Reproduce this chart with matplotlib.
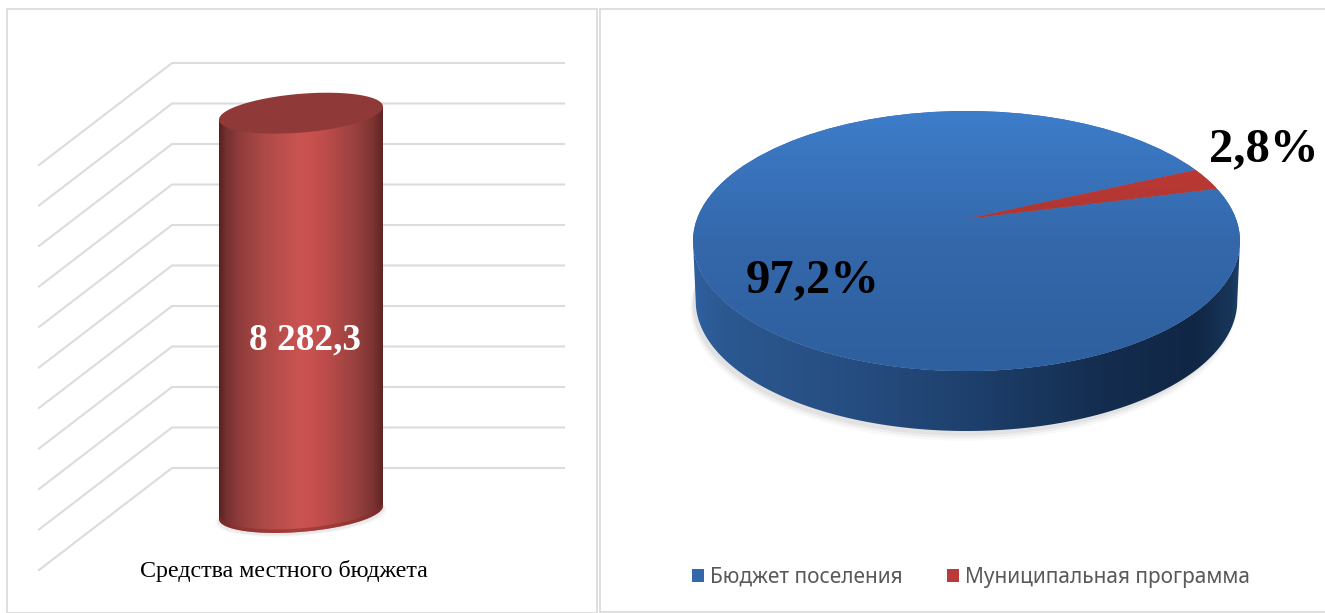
import numpy as np
import matplotlib
matplotlib.use("Agg")
import matplotlib.pyplot as plt
from matplotlib.colors import LinearSegmentedColormap
from matplotlib.patches import Polygon, Rectangle, Ellipse
from matplotlib.transforms import Transform

# ---------- data ----------
bar_category = "Средства местного бюджета"
bar_value = 8282.3
bar_value_label = "8 282,3"
grid_values = [0, 840, 1680, 2520, 3360, 4200, 5040, 5880, 6720, 7560, 8400]

pie_labels = ["Бюджет поселения", "Муниципальная программа"]
pie_shares = [97.2, 2.8]
pie_value_labels = ["97,2%", "2,8%"]

W, H = 1325, 613
fig = plt.figure(figsize=(W / 100, H / 100), dpi=100, facecolor="white")


def rect_px(x0, y0, x1, y1):
    return [x0 / W, 1 - y1 / H, (x1 - x0) / W, (y1 - y0) / H]


# panel frames
for x0, y0, x1, y1 in [(7, 9, 597, 613), (600, 9, 1327, 611.5)]:
    fig.add_artist(Rectangle((x0 / W, 1 - y1 / H), (x1 - x0) / W, (y1 - y0) / H,
                             transform=fig.transFigure, facecolor="white",
                             edgecolor="#d9d9d9", linewidth=1.2, zorder=0))

# ---------- left panel: cylinder ----------
axL = fig.add_axes(rect_px(0, 0, 598, 613))
axL.patch.set_alpha(0)
axL.axis("off")
CX_PX, HALF_PX = 301.0, 82.0
PX_PER_VAL = 40.5 / 840
ZERO_PX = 468.0
axL.set_xlim((0 - CX_PX) / HALF_PX, (598 - CX_PX) / HALF_PX)
axL.set_ylim((ZERO_PX - 613) / PX_PER_VAL, ZERO_PX / PX_PER_VAL)


def xu(px):
    return (px - CX_PX) / HALF_PX


def yu(px):
    return px / PX_PER_VAL


# walls: depth of the floor expressed in the axis' units
floor_drop = yu(102)
for v in grid_values:
    axL.plot([xu(39), xu(172), xu(564)], [v - floor_drop, v, v],
             color="#dcdcdc", lw=1.5, solid_joinstyle="miter", zorder=1)

base = -yu(44.5)
top = base + bar_value
tilt = yu(6.5)
minor = yu(19.4)
t = np.linspace(0, 2 * np.pi, 240)


def ell(c, tt):
    return np.cos(tt), c + tilt * np.cos(tt) + minor * np.sin(tt)


# soft shadow below the cylinder
for grow, al in [(0.05, 0.03), (0.03, 0.05), (0.015, 0.07)]:
    ex, ey = ell(base - yu(2), t)
    axL.fill(ex * (1 + grow), ey - yu(grow * 40), color="#777777", alpha=al, lw=0, zorder=2)

tb = np.linspace(np.pi, 2 * np.pi, 120)
bx, by = ell(base, tb)
body = Polygon(np.r_[np.c_[bx, by], [[1, top + tilt]], [[-1, top - tilt]]],
               closed=True, transform=axL.transData, facecolor="none", edgecolor="none", zorder=3)
axL.add_patch(body)
cyl_cmap = LinearSegmentedColormap.from_list("cyl", [
    (0.00, "#5a2020"), (0.04, "#733030"), (0.12, "#8f3c3b"), (0.28, "#ad4a47"),
    (0.50, "#cb5452"), (0.62, "#c24e4c"), (0.82, "#9b4240"), (0.94, "#7d3432"), (1.00, "#5f2525")])
im = axL.imshow(np.linspace(0, 1, 256)[None, :], cmap=cyl_cmap, aspect="auto",
                extent=(-1, 1, base - 2 * minor, top + 2 * minor), zorder=3,
                interpolation="bilinear")
im.set_clip_path(body)
# darker lower rim
rim, = axL.plot(bx, by + yu(1.5), color="#8c2c2a", lw=3, alpha=0.55, zorder=4, solid_capstyle="butt")
rim.set_clip_path(body)
ex, ey = ell(top, t)
axL.fill(ex, ey, color="#8f3a38", lw=0, zorder=5)
axL.set_xlim((0 - CX_PX) / HALF_PX, (598 - CX_PX) / HALF_PX)
axL.set_ylim((ZERO_PX - 613) / PX_PER_VAL, ZERO_PX / PX_PER_VAL)

serif = "Liberation Serif"
fig.text(305 / W, 1 - 340 / H, bar_value_label, color="white", fontsize=26.8, fontweight="bold",
         family=serif, ha="center", va="center", zorder=10)
fig.text(283.5 / W, 1 - 571 / H, bar_category, color="black", fontsize=17.3,
         family=serif, ha="center", va="center", zorder=10)

# ---------- right panel: pie ----------
axR = fig.add_axes(rect_px(600, 0, 1325, 613))
axR.patch.set_alpha(0)


class DiskTilt(Transform):
    """Projective map of the unit disc onto itself: the view of a tilted pie."""
    input_dims = 2
    output_dims = 2
    is_separable = False
    has_inverse = False

    def __init__(self, d):
        super().__init__()
        self.d = d

    def transform_non_affine(self, values):
        v = np.asarray(values, float)
        den = 1 + self.d * v[:, 1]
        return np.c_[v[:, 0] * np.sqrt(1 - self.d ** 2) / den, (v[:, 1] + self.d) / den]


wedges, _ = axR.pie(pie_shares, startangle=24.5, counterclock=True, radius=1.0,
                    colors=["#3468ab", "#b93a36"], wedgeprops={"linewidth": 0})
axR.set_aspect("auto")
axR.axis("off")
ECX, EA, ECY, EB = 966.5, 273.5, 241.0, 130.0
xlim = ((600 - ECX) / EA, (1325 - ECX) / EA)
ylim = ((ECY - 613) / EB, ECY / EB)
tilt_tr = DiskTilt(0.17) + axR.transData
for w in wedges:
    w.set_transform(tilt_tr)
    w.set_zorder(5)

# soft shadow
for off, grow, al in [(8, 0.012, 0.04), (6, 0.008, 0.06), (4, 0.004, 0.08)]:
    axR.add_patch(Ellipse((-0.012, -(60 + off) / EB), 2 * (0.985 + grow), 2 * (1 + grow),
                          facecolor="#555555", edgecolor="none", alpha=al, zorder=1))

# side wall
ts = np.linspace(np.pi, 2 * np.pi, 200)
depth = 60 / EB
lx, ly = np.cos(ts), np.sin(ts)
side = Polygon(np.r_[np.c_[lx, ly], np.c_[0.99 * lx[::-1], ly[::-1] - depth]], closed=True,
               transform=axR.transData, facecolor="none", edgecolor="none", zorder=2)
axR.add_patch(side)
side_cmap = LinearSegmentedColormap.from_list("side", [
    (0.00, "#2f5f9e"), (0.06, "#2b5890"), (0.30, "#264d80"), (0.52, "#1d3f6b"),
    (0.75, "#142d4f"), (0.92, "#102645"), (0.985, "#183558"), (1.00, "#1e3f66")])
ims = axR.imshow(np.linspace(0, 1, 256)[None, :], cmap=side_cmap, aspect="auto",
                 extent=(-1, 1, -1 - depth, 0), zorder=3, interpolation="bilinear")
ims.set_clip_path(side)

# top face gradients
blue_cmap = LinearSegmentedColormap.from_list("bl", ["#2e5f9e", "#3468ab", "#3d7dca"])
red_cmap = LinearSegmentedColormap.from_list("rd", ["#983230", "#a83531", "#cb3b37"])
for w, cm in zip(wedges, [blue_cmap, red_cmap]):
    imw = axR.imshow(np.linspace(0, 1, 256)[:, None], cmap=cm, aspect="auto", origin="lower",
                     extent=(-1, 1, -1, 1), zorder=6, interpolation="bilinear")
    imw.set_clip_path(w)
axR.set_xlim(*xlim)
axR.set_ylim(*ylim)

fig.text(813 / W, 1 - 280.5 / H, pie_value_labels[0], color="black", fontsize=35, fontweight="bold",
         family=serif, ha="center", va="center", zorder=10)
fig.text(1263.5 / W, 1 - 149 / H, pie_value_labels[1], color="black", fontsize=35, fontweight="bold",
         family=serif, ha="center", va="center", zorder=10)

leg = axR.legend(wedges, pie_labels, ncol=2, frameon=False, loc="center",
                 bbox_to_anchor=(971 / W, 1 - 577 / H), bbox_transform=fig.transFigure,
                 handlelength=0.58, handleheight=0.58, handletextpad=0.3, columnspacing=2.1,
                 prop={"family": "Noto Sans", "size": 15}, labelcolor="#595959")

fig.savefig("out.png", dpi=100, facecolor="white")
